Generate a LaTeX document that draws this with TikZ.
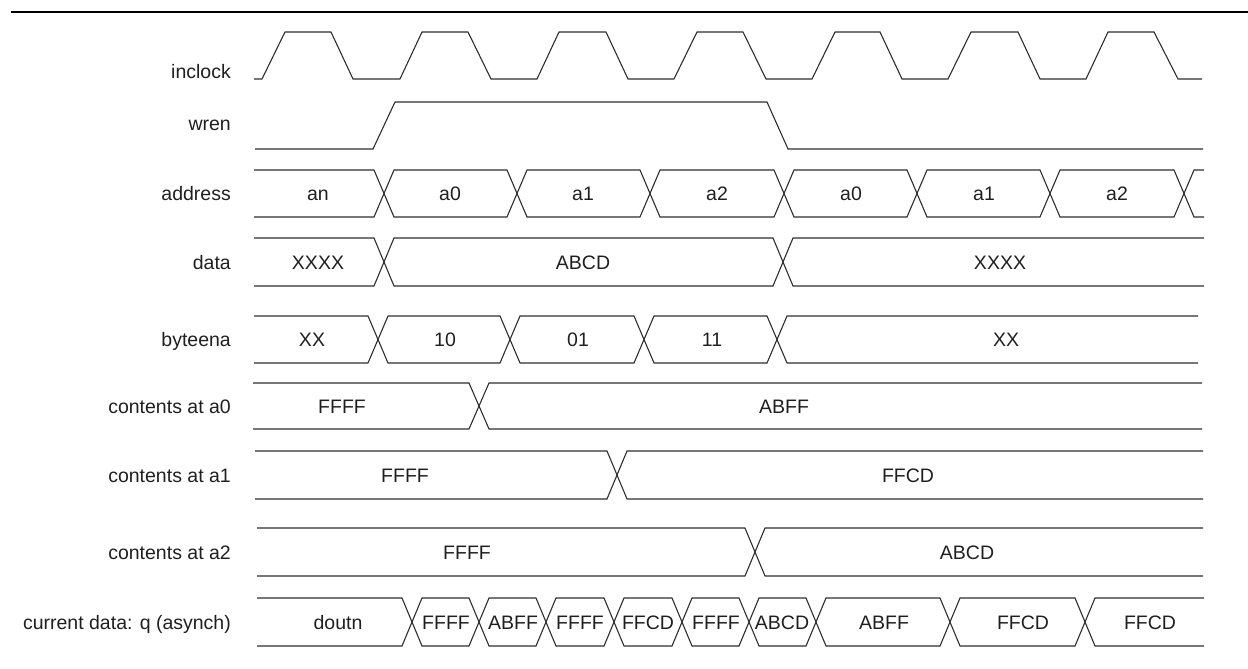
\documentclass[tikz,border=0pt]{standalone}
\usepackage{fontspec}
\setmainfont{Liberation Sans}
\newcommand\tdfont{\fontsize{19.5}{22}\selectfont}
\newcommand\tdseg[4]{%
  \draw[sig] (#1,{(#3+#4)/2}) -- ({#1+10},#3) -- ({#2-10},#3) -- (#2,{(#3+#4)/2}) -- ({#2-10},#4) -- ({#1+10},#4) -- cycle;}
\newcommand\tdleft[4]{%
  \draw[sig] (#1,#3) -- ({#2-10},#3) -- (#2,{(#3+#4)/2}) -- ({#2-10},#4) -- (#1,#4);}
\newcommand\tdright[4]{%
  \draw[sig] (#2,#3) -- ({#1+10},#3) -- (#1,{(#3+#4)/2}) -- ({#1+10},#4) -- (#2,#4);}
\tikzset{
  sig/.style={line width=1.1pt, draw=black!82, line join=miter},
  lbl/.style={anchor=base east, inner sep=0pt, font=\tdfont, text=black!88},
  val/.style={anchor=base, inner sep=0pt, font=\tdfont, text=black!88}
}
\begin{document}
\begin{tikzpicture}[x=1pt,y=-1pt]
\useasboundingbox (0,0) rectangle (1248,669);
% title rule
\draw[line width=2.2pt] (11,12) -- (1248,12);

% labels (baseline = row centre + 7)
\node[lbl] (l1) at (231,79) {inclock};
\node[lbl] (l2) at (231,130) {wren};
\node[lbl] (l3) at (231,200.5) {address};
\node[lbl] (l4) at (231,269) {data};
\node[lbl] (l5) at (231,346.5) {byteena};
\node[lbl] (l6) at (231,413) {contents at a0};
\node[lbl] (l7) at (231,482) {contents at a1};
\node[lbl] (l8) at (231,559) {contents at a2};
\node[lbl] (l9) at (231,629) {current data: q (asynch)};

% inclock
\draw[sig] (254,79) -- (262,79) -- (285,32) -- (331,32) -- (353,79) -- (400,79)
  -- (422,32) -- (468,32) -- (491,79) -- (537,79)
  -- (559,32) -- (606,32) -- (628,79) -- (674,79)
  -- (697,32) -- (743,32) -- (766,79) -- (812,79)
  -- (835,32) -- (880,32) -- (902,79) -- (948,79)
  -- (971,32) -- (1018,32) -- (1040,79) -- (1086,79)
  -- (1108,32) -- (1154,32) -- (1178,79) -- (1202,79);

% wren
\draw[sig] (255,149) -- (373,149) -- (395,102) -- (767,102) -- (788,149) -- (1203,149);

% address
\tdleft{254}{384}{170}{217}
\tdseg{384}{517}{170}{217}
\tdseg{517}{650}{170}{217}
\tdseg{650}{784}{170}{217}
\tdseg{784}{917}{170}{217}
\tdseg{917}{1050}{170}{217}
\tdseg{1050}{1184}{170}{217}
\tdright{1184}{1204}{170}{217}
\node[val] (a1) at (318,200.5) {an};
\node[val] (a2) at (450,200.5) {a0};
\node[val] (a3) at (583,200.5) {a1};
\node[val] (a4) at (717,200.5) {a2};
\node[val] (a5) at (851,200.5) {a0};
\node[val] (a6) at (984,200.5) {a1};
\node[val] (a7) at (1117,200.5) {a2};

% data
\tdleft{254}{384}{238}{286}
\tdseg{384}{783}{238}{286}
\tdright{783}{1204}{238}{286}
\node[val] (d1) at (318,269) {XXXX};
\node[val] (d2) at (583,269) {ABCD};
\node[val] (d3) at (1000,269) {XXXX};

% byteena
\tdleft{254}{378}{316}{363}
\tdseg{378}{510}{316}{363}
\tdseg{510}{644}{316}{363}
\tdseg{644}{777}{316}{363}
\tdright{777}{1198}{316}{363}
\node[val] (b1) at (312,346.5) {XX};
\node[val] (b2) at (445,346.5) {10};
\node[val] (b3) at (578,346.5) {01};
\node[val] (b4) at (712,346.5) {11};
\node[val] (b5) at (1006,346.5) {XX};

% contents at a0
\tdleft{253}{479}{383}{429}
\tdright{479}{1202}{383}{429}
\node[val] (c1) at (342,413) {FFFF};
\node[val] (c2) at (784,413) {ABFF};

% contents at a1
\tdleft{255}{617}{451}{499}
\tdright{617}{1203}{451}{499}
\node[val] (e1) at (405,482) {FFFF};
\node[val] (e2) at (908,482) {FFCD};

% contents at a2
\tdleft{257}{755}{528}{576}
\tdright{755}{1203}{528}{576}
\node[val] (f1) at (467,559) {FFFF};
\node[val] (f2) at (967,559) {ABCD};

% current data
\tdleft{257}{412}{598}{646}
\tdseg{412}{479}{598}{646}
\tdseg{479}{546}{598}{646}
\tdseg{546}{614}{598}{646}
\tdseg{614}{682}{598}{646}
\tdseg{682}{749}{598}{646}
\tdseg{749}{816}{598}{646}
\tdseg{816}{950}{598}{646}
\tdseg{950}{1085}{598}{646}
\tdright{1085}{1204}{598}{646}
\node[val] (q1) at (338,629) {doutn};
\node[val] (q2) at (446,629) {FFFF};
\node[val] (q3) at (513,629) {ABFF};
\node[val] (q4) at (580,629) {FFFF};
\node[val] (q5) at (648,629) {FFCD};
\node[val] (q6) at (716,629) {FFFF};
\node[val] (q7) at (782,629) {ABCD};
\node[val] (q8) at (884,629) {ABFF};
\node[val] (q9) at (1023,629) {FFCD};
\node[val] (q10) at (1150,629) {FFCD};
\end{tikzpicture}
\end{document}
